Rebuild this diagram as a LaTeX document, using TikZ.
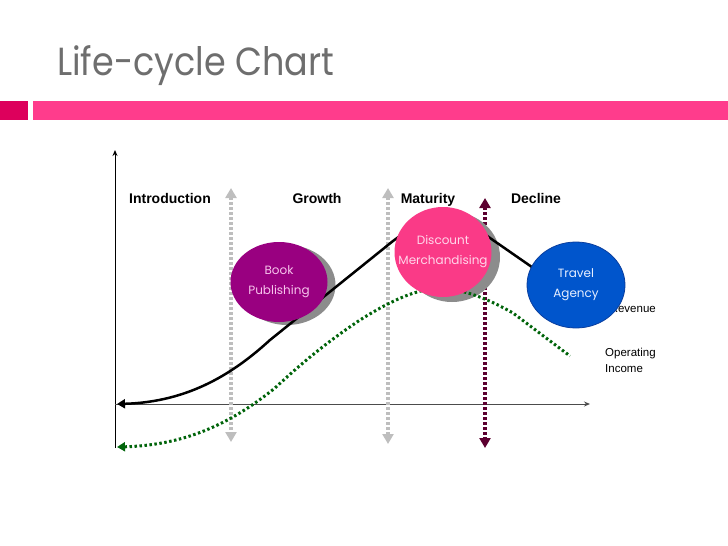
\documentclass[tikz,border=0pt]{standalone}
\usepackage{fontspec}
\setmainfont{Liberation Sans}
\newfontfamily\gothic{Poppins}
\definecolor{titlegray}{RGB}{110, 110, 110}
\definecolor{bardark}{RGB}{221, 0, 92}
\definecolor{barpink}{RGB}{255, 60, 140}
\definecolor{bookpurple}{RGB}{153, 0, 128}
\definecolor{discpink}{RGB}{250, 58, 135}
\definecolor{travelblue}{RGB}{0, 85, 204}
\definecolor{traveledge}{RGB}{10, 62, 158}
\definecolor{shadowgray}{RGB}{140, 140, 140}
\definecolor{phasegray}{RGB}{190, 190, 190}
\definecolor{phasemaroon}{RGB}{92, 0, 48}
\definecolor{incomegreen}{RGB}{0, 100, 10}
\usetikzlibrary{shapes, arrows.meta, positioning, calc}

\begin{document}
\begin{tikzpicture}[x=1pt, y=-1pt,
  phase/.style={font=\bfseries\fontsize{14}{16}\selectfont, inner sep=0, anchor=base},
  phasearrow/.style={line width=3.5pt, dash pattern=on 3pt off 2pt,
    {Triangle[length=10pt, width=11pt]}-{Triangle[length=10pt, width=11pt]}},
  bubble/.style={ellipse, inner ysep=0, inner xsep=-15pt, align=center,
    font=\gothic\fontsize{12}{20}\selectfont},
  legend/.style={font=\fontsize{11.5}{16}\selectfont, inner sep=0, align=left}]
  \useasboundingbox (0,0) rectangle (728,546);

  % Title
  \node[anchor=base west, inner sep=0, text=titlegray, font=\gothic\fontsize{35}{40}\selectfont] (title) at (57,75) {\scalebox{1}[1.12]{Life-cycle Chart}};
  \fill[bardark] (0,101) rectangle (28,120);
  \fill[barpink] (33,101) rectangle (728,120);

  % Axes
  \coordinate (origin) at (115,404);
  \coordinate (ytop) at (115,150);
  \coordinate (ybot) at (115,448);
  \coordinate (xend) at (590,404);
  \draw[line width=1pt, -{Stealth[length=6pt, width=5pt]}] (ybot) -- (ytop);
  \draw[line width=1pt, black!70, -{Stealth[length=6pt, width=5pt]}] (origin) -- (xend);

  % Phases
  \node[phase] (intro) at (170,203) {Introduction};
  \node[phase] (growth) at (317,203) {Growth};
  \node[phase] (maturity) at (428,203) {Maturity};
  \node[phase] (decline) at (536,203) {Decline};

  \coordinate (growtop) at (231,188);
  \coordinate (growbot) at (231,442);
  \coordinate (mattop) at (388,188);
  \coordinate (matbot) at (388,444);
  \coordinate (dectop) at (485,198);
  \coordinate (decbot) at (485,448);
  \draw[phasearrow, phasegray] (growtop) -- (growbot);
  \draw[phasearrow, phasegray] (mattop) -- (matbot);
  \draw[phasearrow, phasemaroon] (dectop) -- (decbot);

  % Shadows
  \node[bubble, fill=shadowgray, minimum width=97pt, minimum height=80pt] (bookshadow) at (287,285) {};
  \node[bubble, fill=shadowgray, minimum width=96pt, minimum height=90pt] (discshadow) at (452,257) {};

  % Revenue
  \coordinate (revstart) at (117,404);
  \coordinate (revmid) at (270,340);
  \coordinate (revup) at (393,241);
  \coordinate (revdown) at (490,238);
  \coordinate (revend) at (565,290);
  \draw[line width=2.5pt, {Triangle[length=8pt, width=9pt]}-] (revstart)
    .. controls (190,402) and (235,372) .. (revmid) -- (revup)
    .. controls (420,220) and (460,215) .. (revdown) -- (revend);

  % Operating income
  \coordinate (incstart) at (117,447);
  \coordinate (incmid) at (275,388);
  \coordinate (incup) at (360,320);
  \coordinate (incpeak) at (450,289);
  \coordinate (incdown) at (513,313);
  \coordinate (incend) at (570,356);
  \draw[line width=3pt, incomegreen, dash pattern=on 2.5pt off 2.5pt,
    {Triangle[length=8pt, width=9pt]}-] (incstart)
    .. controls (190,445) and (235,420) .. (incmid)
    .. controls (305,360) and (330,340) .. (incup)
    .. controls (395,298) and (425,285) .. (incpeak)
    .. controls (470,292) and (490,300) .. (incdown) -- (incend);

  % Legend
  \node[legend, anchor=east] (revlabel) at (656,309) {Revenue};
  \node[legend, anchor=north west] (inclabel) at (605,348) {Operating\\Income};

  % Businesses
  \node[bubble, fill=bookpurple, text={rgb,255:red,247;green,196;blue,236}, minimum width=97pt, minimum height=80pt] (book) at (279,282) {Book\\Publishing};
  \node[bubble, fill=discpink, text={rgb,255:red,255;green,214;blue,234}, minimum width=97pt, minimum height=90pt] (disc) at (443,252) {Discount\\Merchandising};
  \node[bubble, fill=travelblue, draw=traveledge, line width=0.8pt, text={rgb,255:red,230;green,238;blue,255}, minimum width=98pt, minimum height=86pt] (travel) at (576,285) {Travel\\Agency};
\end{tikzpicture}
\end{document}
